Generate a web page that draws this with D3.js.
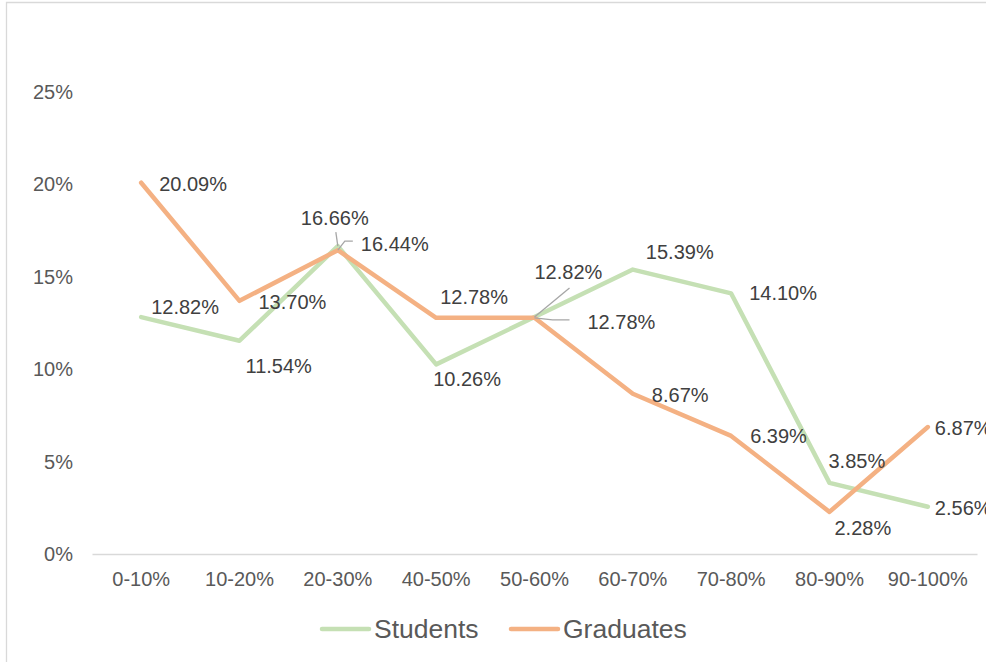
<!DOCTYPE html>
<html>
<head>
<meta charset="utf-8">
<script src="https://cdn.jsdelivr.net/npm/d3@7"></script>
<style>
  html, body { margin: 0; padding: 0; background: #fff; }
  svg { display: block; font-family: "Liberation Sans", Arial, sans-serif; }
</style>
</head>
<body>
<svg id="chart" width="986" height="662"></svg>
<script>
// ---- data ----
const categories = ["0-10%", "10-20%", "20-30%", "40-50%", "50-60%", "60-70%", "70-80%", "80-90%", "90-100%"];
const students  = [12.82, 11.54, 16.66, 10.26, 12.82, 15.39, 14.10, 3.85, 2.56];
const graduates = [20.09, 13.70, 16.44, 12.78, 12.78, 8.67, 6.39, 2.28, 6.87];
const yTicks = [0, 5, 10, 15, 20, 25];
const seriesNames = ["Students", "Graduates"];

// ---- label placement (layout only): text-left offset dx, vertical-centre offset dy from the point ----
const studentLabelOffsets = [[10, -10], [6, 25], [-37, -28], [-3, 15], [0, -45], [13, -18], [18, 0], [-1, -22], [7, 1]];
const graduateLabelOffsets = [[18, 1], [19, 1], [23, -6], [4, -21], [53, 4], [19, 1], [19, 0], [5, 16], [7, 1]];
// leader lines: [from label side point offset]
const studentLeaders = {2: [[-2, -14], [0, 0]], 4: [[35, -29], [0, 0]]};
const graduateLeaders = {2: [[15, -9], [7, -9], [0, 0]], 4: [[35, 2], [18, 2], [0, 0]]};

const colors = { Students: "#C5E0B4", Graduates: "#F4B183" };

const svg = d3.select("#chart");

// outer frame (cropped chart border)
svg.append("path")
  .attr("d", "M6.5,700 L6.5,2.5 L1000,2.5")
  .attr("fill", "none").attr("stroke", "#d9d9d9").attr("stroke-width", 1.3);

const x = d3.scaleBand().domain(categories).range([92, 977]).padding(0);
const y = d3.scaleLinear().domain([0, 25]).range([554, 92]);
const cx = c => x(c) + x.bandwidth() / 2;

// y axis labels
svg.append("g").selectAll("text").data(yTicks).join("text")
  .attr("x", 73).attr("y", d => y(d)).attr("dy", "0.35em")
  .attr("text-anchor", "end").attr("font-size", 20).attr("fill", "#595959")
  .text(d => d + "%");

// baseline
const xAxis = d3.axisBottom(x).tickSize(0).tickPadding(0);
const gx = svg.append("g").attr("transform", `translate(0,${y(0)})`).call(xAxis);
gx.select(".domain").attr("stroke", "#d9d9d9").attr("stroke-width", 1.5);
gx.selectAll(".tick text")
  .attr("y", 25).attr("dy", "0.35em")
  .attr("font-size", 20).attr("fill", "#595959")
  .attr("font-family", "Liberation Sans, Arial, sans-serif");

// lines
const line = d3.line().x((d, i) => cx(categories[i])).y(d => y(d));
const series = [
  { name: "Students", values: students, offsets: studentLabelOffsets, leaders: studentLeaders },
  { name: "Graduates", values: graduates, offsets: graduateLabelOffsets, leaders: graduateLeaders }
];
series.forEach(s => {
  svg.append("path").datum(s.values)
    .attr("d", line).attr("fill", "none")
    .attr("stroke", colors[s.name]).attr("stroke-width", 4.5)
    .attr("stroke-linejoin", "round").attr("stroke-linecap", "round");
});

// leader lines
series.forEach(s => {
  Object.keys(s.leaders).forEach(k => {
    const i = +k;
    const px = cx(categories[i]), py = y(s.values[i]);
    const pts = s.leaders[k].map(p => [px + p[0], py + p[1]]);
    svg.append("path").attr("d", d3.line()(pts))
      .attr("fill", "none").attr("stroke", "#a6a6a6").attr("stroke-width", 1.3);
  });
});

// data labels
series.forEach(s => {
  svg.append("g").selectAll("text").data(s.values).join("text")
    .attr("x", (d, i) => cx(categories[i]) + s.offsets[i][0])
    .attr("y", (d, i) => y(d) + s.offsets[i][1])
    .attr("dy", "0.35em")
    .attr("font-size", 20).attr("fill", "#404040")
    .text(d => d.toFixed(2) + "%");
});

// legend
const legend = [
  { name: seriesNames[0], x0: 322 },
  { name: seriesNames[1], x0: 511 }
];
const lg = svg.append("g");
legend.forEach(l => {
  lg.append("line").attr("x1", l.x0).attr("x2", l.x0 + 47)
    .attr("y1", 629).attr("y2", 629)
    .attr("stroke", colors[l.name]).attr("stroke-width", 4.5).attr("stroke-linecap", "round");
  lg.append("text").attr("x", l.x0 + 52).attr("y", 629).attr("dy", "0.35em")
    .attr("font-size", 26.5).attr("fill", "#595959").text(l.name);
});
</script>
</body>
</html>
